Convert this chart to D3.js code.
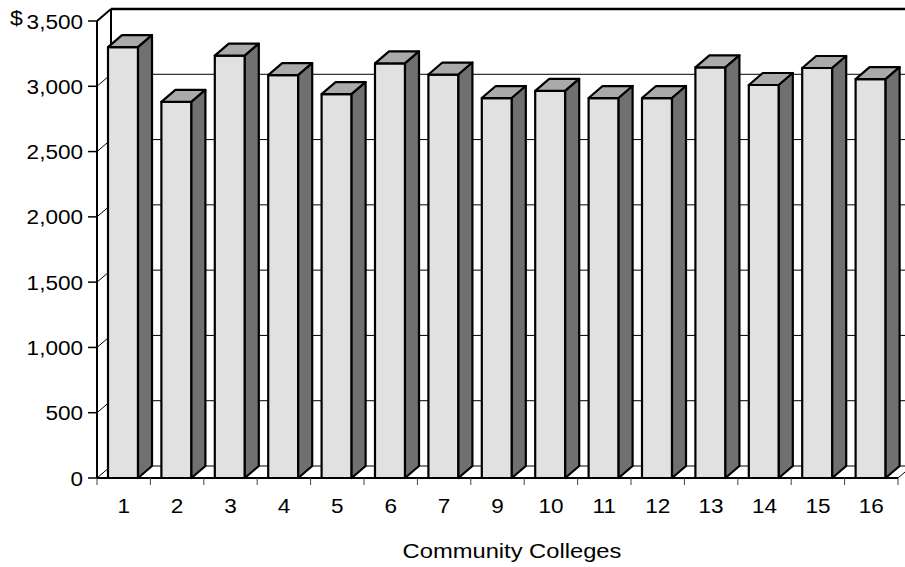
<!DOCTYPE html>
<html><head><meta charset="utf-8">
<script src="https://cdn.jsdelivr.net/npm/d3@7"></script>
<style>html,body{margin:0;padding:0;background:#fff;} svg{display:block;}</style>
</head><body>
<svg id="c" width="905" height="567"></svg>
<script>
const categories = ["1","2","3","4","5","6","7","9","10","11","12","13","14","15","16"];
const values = [3300,2880,3235,3085,2940,3175,3090,2910,2965,2910,2910,3145,3010,3140,3055];
const yTicks = [0,500,1000,1500,2000,2500,3000,3500];
const xTitle = "Community Colleges";
const currencySymbol = "$";

(function () {
const svg = d3.select("#c");
const pL = 97, pR = 898, pB = 478, pT = 21;
const dx = 14, dy = 12;
const x = d3.scaleBand().domain(categories).range([pL, pR]).padding(0);
const y = d3.scaleLinear().domain([0, 3500]).range([pB, pT]);
const fmt = d3.format(",");
const font = "'Liberation Sans', Arial, sans-serif";
const fs = 20.5, sx = 1.1;
const wallRight = pR + dx + 20;
const inner = yTicks.filter(t => t > 0 && t < 3500);

svg.append("rect").attr("width", 905).attr("height", 567).attr("fill", "#fff");

const walls = svg.append("g");
walls.selectAll(".grid").data(inner).join("line").attr("class", "grid")
  .attr("x1", pL + dx).attr("x2", wallRight)
  .attr("y1", d => y(d) - dy).attr("y2", d => y(d) - dy)
  .attr("stroke", "#000").attr("stroke-width", 1);
walls.selectAll(".lw").data(inner).join("line").attr("class", "lw")
  .attr("x1", pL).attr("x2", pL + dx)
  .attr("y1", d => y(d)).attr("y2", d => y(d) - dy)
  .attr("stroke", "#000").attr("stroke-width", 1);
walls.append("line").attr("x1", pL + dx).attr("x2", wallRight)
  .attr("y1", y(0) - dy).attr("y2", y(0) - dy).attr("stroke", "#000").attr("stroke-width", 1);
walls.append("line").attr("x1", pL).attr("x2", pL + dx)
  .attr("y1", y(0)).attr("y2", y(0) - dy).attr("stroke", "#000").attr("stroke-width", 1);
walls.append("line").attr("x1", pR).attr("x2", pR + dx)
  .attr("y1", y(0)).attr("y2", y(0) - dy).attr("stroke", "#000").attr("stroke-width", 1);
walls.append("line").attr("x1", pL + dx).attr("x2", wallRight)
  .attr("y1", y(3500) - dy).attr("y2", y(3500) - dy).attr("stroke", "#000").attr("stroke-width", 2.5);
walls.append("line").attr("x1", pL + dx).attr("x2", pL + dx)
  .attr("y1", y(3500) - dy).attr("y2", y(0) - dy).attr("stroke", "#000").attr("stroke-width", 2);
walls.append("line").attr("x1", pL).attr("x2", pL + dx)
  .attr("y1", y(3500)).attr("y2", y(3500) - dy).attr("stroke", "#000").attr("stroke-width", 2);

const ax = svg.append("g");
ax.append("line").attr("x1", pL).attr("x2", pL).attr("y1", y(3500)).attr("y2", y(0))
  .attr("stroke", "#000").attr("stroke-width", 2);
ax.selectAll(".yt").data(yTicks).join("line").attr("class", "yt")
  .attr("x1", pL - 9).attr("x2", pL).attr("y1", d => y(d)).attr("y2", d => y(d))
  .attr("stroke", "#000").attr("stroke-width", 1.5);
ax.selectAll(".yl").data(yTicks).join("text").attr("class", "yl")
  .attr("transform", d => `translate(83,${y(d) + 7.5}) scale(${sx},1)`)
  .attr("text-anchor", "end").attr("font-family", font).attr("font-size", fs)
  .attr("fill", "#000").text(d => fmt(d));
ax.append("text").attr("transform", `translate(10,25) scale(${sx},1)`)
  .attr("font-family", font).attr("font-size", 21).attr("fill", "#000").text(currencySymbol);

const bw = x.bandwidth();
const bars = svg.append("g").attr("stroke", "#000").attr("stroke-width", 2.2).attr("stroke-linejoin", "round");
const data = categories.map((c, i) => ({ c, v: values[i] }));
data.forEach(d => {
  const x0 = x(d.c) + 0.206 * bw, w = 0.562 * bw, y0 = y(d.v), yb = y(0);
  bars.append("rect").attr("x", x0).attr("y", y0).attr("width", w).attr("height", yb - y0).attr("fill", "#e1e1e1");
  bars.append("polygon").attr("points", [[x0, y0], [x0 + dx, y0 - dy], [x0 + w + dx, y0 - dy], [x0 + w, y0]].join(" "))
    .attr("fill", "#aaaaaa");
  bars.append("polygon").attr("points", [[x0 + w, y0], [x0 + w + dx, y0 - dy], [x0 + w + dx, yb - dy], [x0 + w, yb]].join(" "))
    .attr("fill", "#707070");
});

const cx = svg.append("g");
cx.append("line").attr("x1", pL).attr("x2", pR).attr("y1", y(0)).attr("y2", y(0))
  .attr("stroke", "#000").attr("stroke-width", 2);
const bounds = categories.map(c => x(c)).concat([pR]);
cx.selectAll(".xt").data(bounds).join("line").attr("class", "xt")
  .attr("x1", d => d).attr("x2", d => d).attr("y1", y(0)).attr("y2", y(0) + 7)
  .attr("stroke", "#444").attr("stroke-width", 1);
cx.selectAll(".xl").data(categories).join("text").attr("class", "xl")
  .attr("transform", d => `translate(${x(d) + bw / 2},512.5) scale(${sx},1)`)
  .attr("text-anchor", "middle").attr("font-family", font).attr("font-size", fs)
  .attr("fill", "#000").text(d => d);
svg.append("text").attr("transform", `translate(512,558) scale(1.13,1)`)
  .attr("text-anchor", "middle").attr("font-family", font).attr("font-size", 21)
  .attr("fill", "#000").text(xTitle);
})();
</script>
</body></html>
